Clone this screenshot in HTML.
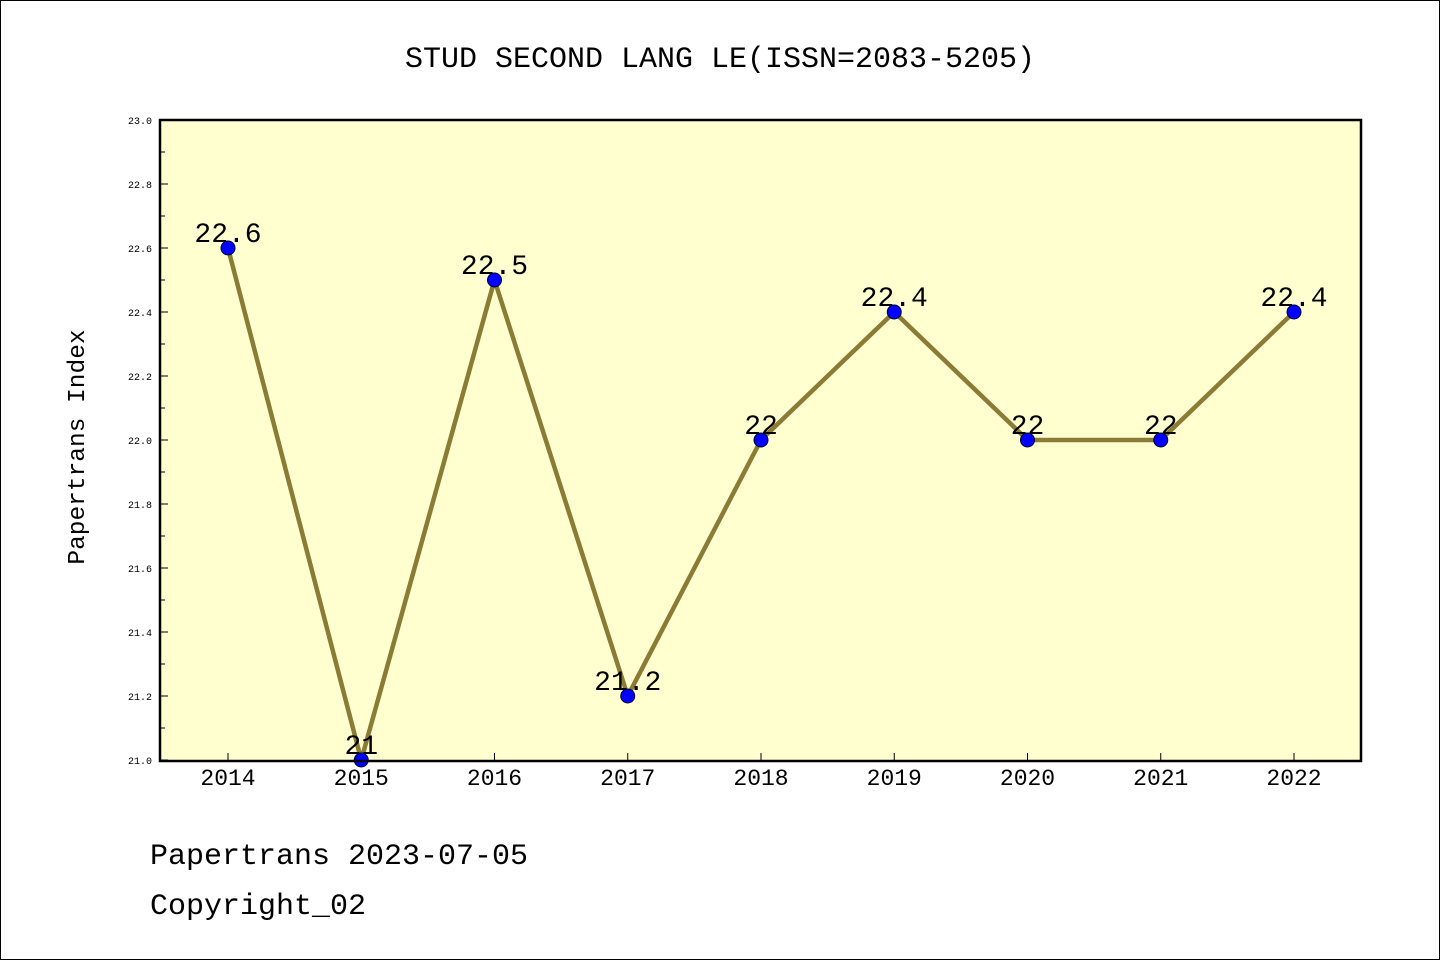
<!DOCTYPE html>
<html><head><meta charset="utf-8"><style>
body{margin:0;background:#fff}
svg{display:block}
text{font-family:"WenQuanYi Zen Hei","Liberation Mono",monospace}
</style></head><body>
<svg id="chart" width="1440" height="960">
<rect x="0.5" y="0.5" width="1439" height="959" fill="#fff" stroke="#000"/>
<text x="720" y="67" font-size="30" text-anchor="middle">STUD SECOND LANG LE(ISSN=2083-5205)</text>
<rect x="160" y="120" width="1201" height="641" fill="#ffffd0"/>
<g id="axes"></g>
<g id="series"></g>
<rect x="160" y="120" width="1201" height="641" fill="none" stroke="#000" stroke-width="2.5"/>
<text transform="translate(84,447) rotate(-90)" font-size="24.5" text-anchor="middle">Papertrans Index</text>
<text x="150" y="864" font-size="30">Papertrans 2023-07-05</text>
<text x="150" y="914" font-size="30">Copyright_02</text>
</svg>
<script>
const years=[2014,2015,2016,2017,2018,2019,2020,2021,2022];
const values=[22.6,21,22.5,21.2,22,22.4,22,22,22.4];
const valueLabels=["22.6","21","22.5","21.2","22","22.4","22","22","22.4"];
const yTicks=["21.0","21.2","21.4","21.6","21.8","22.0","22.2","22.4","22.6","22.8","23.0"];
(function(){
const NS="http://www.w3.org/2000/svg";
const yMin=21,yMax=23,plotTop=120,plotBot=760;
const y=v=>plotBot-(v-yMin)/(yMax-yMin)*(plotBot-plotTop);
const x=i=>228+i*(1294-228)/(years.length-1);
function mk(t,a,p){const e=document.createElementNS(NS,t);for(const k in a)e.setAttribute(k,a[k]);p.appendChild(e);return e;}
const ax=document.getElementById('axes'),se=document.getElementById('series');
for(let k=0;k<=Math.round((yMax-yMin)*10);k++){
  const v=yMin+k*0.1;
  const major=k%2===0;
  const t=mk('line',{x1:160,x2:major?168:165,y1:y(v),y2:y(v),stroke:'#000','stroke-width':1},ax);
  
  
}
yTicks.forEach(s=>{
  const t=mk('text',{x:152,y:y(parseFloat(s))+4,'font-size':10,'text-anchor':'end'},ax);t.textContent=s;
  
  
});
years.forEach((yr,i)=>{
  const l=mk('line',{x1:x(i),x2:x(i),y1:761,y2:753,stroke:'#000'},ax);
  
  
  const t=mk('text',{x:x(i),y:785,'font-size':23,'text-anchor':'middle'},ax);t.textContent=yr;
  
  
});
const pl=mk('polyline',{points:values.map((v,i)=>x(i)+','+y(v)).join(' '),fill:'none',stroke:'#8b7b35','stroke-width':4.5,'stroke-linejoin':'round'},se);


values.forEach((v,i)=>{
  const c=mk('circle',{cx:x(i),cy:y(v),r:7,fill:'#0000ff',stroke:'#000033','stroke-width':1},se);
  
  
  const t=mk('text',{x:x(i),y:y(v)-6,'font-size':28,'text-anchor':'middle'},se);t.textContent=valueLabels[i];
  
  
});
})();
</script>
</body></html>
